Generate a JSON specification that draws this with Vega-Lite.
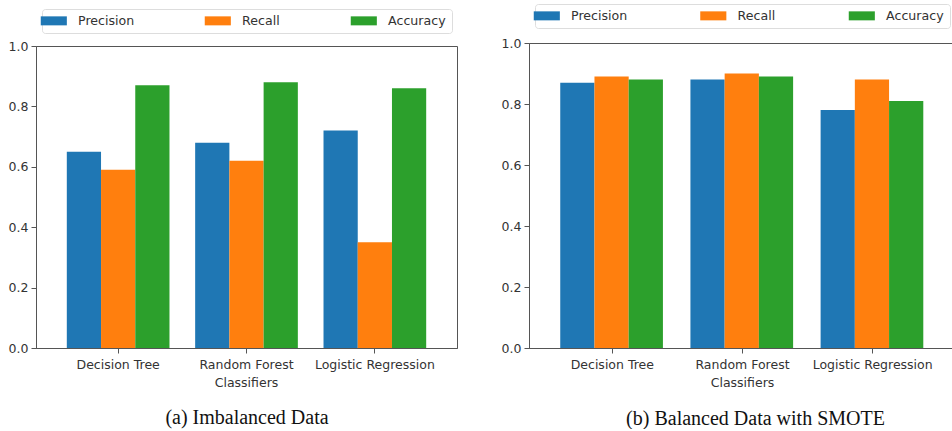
{
  "$schema": "https://vega.github.io/schema/vega-lite/v6.json",
  "background": "white",
  "padding": {"left": 7, "top": 3, "right": 0, "bottom": 0},
  "spacing": 42,
  "datasets": {
    "imb": [
      {"model": "Decision Tree", "metric": "Precision", "value": 0.65},
      {"model": "Decision Tree", "metric": "Recall", "value": 0.59},
      {"model": "Decision Tree", "metric": "Accuracy", "value": 0.87},
      {"model": "Random Forest Classifiers", "metric": "Precision", "value": 0.68},
      {"model": "Random Forest Classifiers", "metric": "Recall", "value": 0.62},
      {"model": "Random Forest Classifiers", "metric": "Accuracy", "value": 0.88},
      {"model": "Logistic Regression", "metric": "Precision", "value": 0.72},
      {"model": "Logistic Regression", "metric": "Recall", "value": 0.35},
      {"model": "Logistic Regression", "metric": "Accuracy", "value": 0.86}
    ],
    "bal": [
      {"model": "Decision Tree", "metric": "Precision", "value": 0.87},
      {"model": "Decision Tree", "metric": "Recall", "value": 0.89},
      {"model": "Decision Tree", "metric": "Accuracy", "value": 0.88},
      {"model": "Random Forest Classifiers", "metric": "Precision", "value": 0.88},
      {"model": "Random Forest Classifiers", "metric": "Recall", "value": 0.90},
      {"model": "Random Forest Classifiers", "metric": "Accuracy", "value": 0.89},
      {"model": "Logistic Regression", "metric": "Precision", "value": 0.78},
      {"model": "Logistic Regression", "metric": "Recall", "value": 0.88},
      {"model": "Logistic Regression", "metric": "Accuracy", "value": 0.81}
    ],
    "empty": []
  },
  "config": {
    "font": "DejaVu Sans",
    "view": {"stroke": "#555", "strokeWidth": 1},
    "axis": {
      "domainColor": "#555",
      "tickColor": "#555",
      "tickSize": 5,
      "labelColor": "#333",
      "labelFont": "DejaVu Sans",
      "labelFontSize": 12.5,
      "grid": false
    },
    "legend": {
      "orient": "none",
      "direction": "horizontal",
      "symbolType": "M-2.9,-1H2.9V1H-2.9Z",
      "symbolSize": 81,
      "symbolStrokeWidth": 0,
      "labelFont": "DejaVu Sans",
      "labelFontSize": 12.6,
      "labelColor": "#333",
      "labelOffset": 18,
      "columnPadding": 70,
      "padding": 5.5,
      "strokeColor": "#dddddd",
      "fillColor": "white",
      "cornerRadius": 3
    }
  },
  "resolve": {"scale": {"color": "independent"}, "legend": {"color": "independent"}},
  "hconcat": [
    {
      "spacing": -36,
      "resolve": {"scale": {"color": "independent"}, "legend": {"color": "independent"}},
      "vconcat": [
        {
          "width": 421,
          "height": 1,
          "data": {"name": "empty"},
          "mark": {"type": "point"},
          "view": {"stroke": null}
        },
        {
          "width": 421,
          "height": 302,
          "data": {"name": "imb"},
          "mark": {"type": "bar"},
          "encoding": {
            "x": {
              "field": "model", "type": "nominal",
              "sort": ["Decision Tree", "Random Forest Classifiers", "Logistic Regression"],
              "scale": {"paddingInner": 0.2, "paddingOuter": 0.24},
              "axis": {
                "labelAngle": 0, "labelPadding": 5, "labelLineHeight": 18,
                "labelExpr": "datum.label == 'Random Forest Classifiers' ? ['Random Forest', 'Classifiers'] : datum.label",
                "title": "(a) Imbalanced Data",
                "titleFont": "Liberation Serif", "titleFontSize": 20, "titleFontWeight": "normal",
                "titleColor": "#111", "titlePadding": 19
              }
            },
            "xOffset": {
              "field": "metric", "type": "nominal",
              "sort": ["Precision", "Recall", "Accuracy"],
              "scale": {"paddingInner": 0, "paddingOuter": 0}
            },
            "y": {
              "field": "value", "type": "quantitative",
              "scale": {"domain": [0, 1], "nice": false},
              "axis": {"values": [0, 0.2, 0.4, 0.6, 0.8, 1.0], "format": ".1f", "title": null, "labelPadding": 3}
            },
            "color": {
              "field": "metric", "type": "nominal",
              "sort": ["Precision", "Recall", "Accuracy"],
              "scale": {"domain": ["Precision", "Recall", "Accuracy"], "range": ["#1f77b4", "#ff7f0e", "#2ca02c"]},
              "legend": {"title": null, "legendX": 6, "legendY": -37}
            }
          }
        }
      ]
    },
    {
      "width": 427,
      "height": 305,
      "data": {"name": "bal"},
      "mark": {"type": "bar"},
      "encoding": {
        "x": {
          "field": "model", "type": "nominal",
          "sort": ["Decision Tree", "Random Forest Classifiers", "Logistic Regression"],
          "scale": {"paddingInner": 0.2, "paddingOuter": 0.24},
          "axis": {
            "labelAngle": 0, "labelPadding": 5, "labelLineHeight": 18,
            "labelExpr": "datum.label == 'Random Forest Classifiers' ? ['Random Forest', 'Classifiers'] : datum.label",
            "title": "(b) Balanced Data with SMOTE",
            "titleFont": "Liberation Serif", "titleFontSize": 20, "titleFontWeight": "normal",
            "titleColor": "#111", "titlePadding": 20, "titleX": 226, "titleAlign": "center"
          }
        },
        "xOffset": {
          "field": "metric", "type": "nominal",
          "sort": ["Precision", "Recall", "Accuracy"],
          "scale": {"paddingInner": 0, "paddingOuter": 0}
        },
        "y": {
          "field": "value", "type": "quantitative",
          "scale": {"domain": [0, 1], "nice": false},
          "axis": {"values": [0, 0.2, 0.4, 0.6, 0.8, 1.0], "format": ".1f", "title": null, "labelPadding": 3}
        },
        "color": {
          "field": "metric", "type": "nominal",
          "sort": ["Precision", "Recall", "Accuracy"],
          "scale": {"domain": ["Precision", "Recall", "Accuracy"], "range": ["#1f77b4", "#ff7f0e", "#2ca02c"]},
          "legend": {"title": null, "legendX": 6, "legendY": -39, "columnPadding": 72.5}
        }
      }
    }
  ]
}
